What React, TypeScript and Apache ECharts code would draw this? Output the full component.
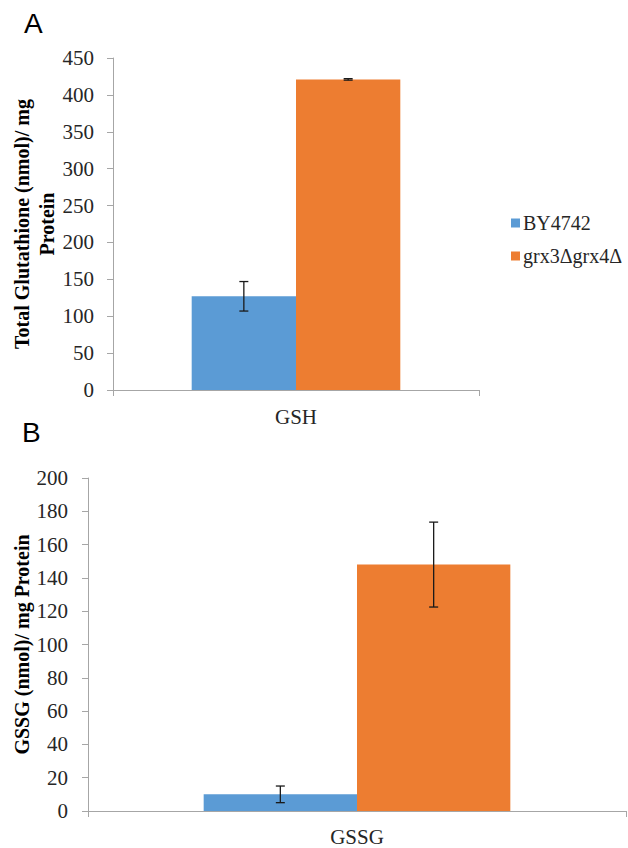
import React, { useEffect, useRef } from "react";
import * as echarts from "echarts";

const categoriesA = ["GSH"];
const categoriesB = ["GSSG"];
const seriesNames = ["BY4742", "grx3Δgrx4Δ"];
const valuesA_BY = [127];
const valuesA_GRX = [421];
const errA_BY = [20];
const errA_GRX = [1];
const valuesB_BY = [10];
const valuesB_GRX = [148];
const errB_BY = [5];
const errB_GRX = [25.5];
const ticksA = { min: 0, max: 450, interval: 50 };
const ticksB = { min: 0, max: 200, interval: 20 };

const BLUE = "#5B9BD5";
const ORANGE = "#ED7D31";
const AXIS = "#A6A6A6";
const SERIF = "'Liberation Serif', 'Times New Roman', serif";
const GAP = 0.43;

function errorItems(vals: number[], errs: number[], sign: number) {
  return vals.map((v, i) => [i, v - errs[i], v + errs[i], sign]);
}

const renderError = (params: any, api: any) => {
  const xi = api.value(0);
  const lo = api.coord([xi, api.value(1)]);
  const hi = api.coord([xi, api.value(2)]);
  const catW = api.size([1, 0])[0];
  const barW = (catW * (1 - GAP)) / 2;
  const cx = lo[0] + (api.value(3) * barW) / 2;
  const cap = 4.5;
  const style = { stroke: "#1a1a1a", lineWidth: 1.3 };
  return {
    type: "group",
    children: [
      { type: "line", shape: { x1: cx, y1: lo[1], x2: cx, y2: hi[1] }, style },
      { type: "line", shape: { x1: cx - cap, y1: lo[1], x2: cx + cap, y2: lo[1] }, style },
      { type: "line", shape: { x1: cx - cap, y1: hi[1], x2: cx + cap, y2: hi[1] }, style },
    ],
  };
};

export default function App() {
  const ref = useRef<HTMLDivElement>(null);
  useEffect(() => {
    document.body.style.margin = "0";
    const chart = echarts.init(ref.current!, null, { renderer: "svg" });
    const axisLabel = { fontFamily: SERIF, fontSize: 21, color: "#262626" };
    const nameStyle = { fontFamily: SERIF, fontSize: 20, fontWeight: "bold" as const, color: "#000", lineHeight: 25 };
    chart.setOption({
      animation: false,
      backgroundColor: "#fff",
      textStyle: { fontFamily: SERIF },
      legend: {
        data: seriesNames,
        orient: "vertical",
        left: 506,
        top: 208,
        itemWidth: 9,
        itemHeight: 9,
        itemGap: 13,
        icon: "rect",
        textStyle: { fontFamily: SERIF, fontSize: 20, color: "#262626", padding: [0, 0, 0, -2] },
      },
      graphic: [
        { type: "text", x: 24, y: 23, style: { text: "A", font: "28px 'Liberation Sans'", fill: "#000", textVerticalAlign: "middle" } },
        { type: "text", x: 22, y: 432, style: { text: "B", font: "28px 'Liberation Sans'", fill: "#000", textVerticalAlign: "middle" } },
      ],
      grid: [
        { left: 113, right: 149, top: 58, bottom: 458, containLabel: false, outerBoundsMode: "none" },
        { left: 88, right: 2, top: 478, bottom: 37, containLabel: false, outerBoundsMode: "none" },
      ],
      xAxis: [
        {
          type: "category", gridIndex: 0, data: categoriesA,
          axisLine: { lineStyle: { color: AXIS } },
          axisTick: { show: true, length: 6, lineStyle: { color: AXIS } },
          axisLabel: { ...axisLabel, margin: 16 },
        },
        {
          type: "category", gridIndex: 1, data: categoriesB,
          axisLine: { lineStyle: { color: AXIS } },
          axisTick: { show: true, length: 6, lineStyle: { color: AXIS } },
          axisLabel: { ...axisLabel, margin: 15 },
        },
      ],
      yAxis: [
        {
          type: "value", gridIndex: 0, ...ticksA,
          axisLine: { show: true, lineStyle: { color: AXIS } },
          axisTick: { show: true, length: 6, lineStyle: { color: AXIS } },
          splitLine: { show: false },
          axisLabel: { ...axisLabel, margin: 19 },
          name: "Total Glutathione (nmol)/ mg\nProtein",
          nameLocation: "middle", nameRotate: 90, nameGap: 54, nameMoveOverlap: false, nameTextStyle: nameStyle,
        },
        {
          type: "value", gridIndex: 1, ...ticksB,
          axisLine: { show: true, lineStyle: { color: AXIS } },
          axisTick: { show: true, length: 6, lineStyle: { color: AXIS } },
          splitLine: { show: false },
          axisLabel: { ...axisLabel, margin: 20 },
          name: "GSSG (nmol)/ mg Protein",
          nameLocation: "middle", nameRotate: 90, nameGap: 54, nameMoveOverlap: false, nameTextStyle: nameStyle,
        },
      ],
      series: [
        { name: seriesNames[0], type: "bar", xAxisIndex: 0, yAxisIndex: 0, data: valuesA_BY, itemStyle: { color: BLUE }, barGap: "0%", barCategoryGap: "43%" },
        { name: seriesNames[1], type: "bar", xAxisIndex: 0, yAxisIndex: 0, data: valuesA_GRX, itemStyle: { color: ORANGE }, barGap: "0%", barCategoryGap: "43%" },
        { name: seriesNames[0], type: "bar", xAxisIndex: 1, yAxisIndex: 1, data: valuesB_BY, itemStyle: { color: BLUE }, barGap: "0%", barCategoryGap: "43%" },
        { name: seriesNames[1], type: "bar", xAxisIndex: 1, yAxisIndex: 1, data: valuesB_GRX, itemStyle: { color: ORANGE }, barGap: "0%", barCategoryGap: "43%" },
        { type: "custom", xAxisIndex: 0, yAxisIndex: 0, data: errorItems(valuesA_BY, errA_BY, -1), renderItem: renderError, z: 10 },
        { type: "custom", xAxisIndex: 0, yAxisIndex: 0, data: errorItems(valuesA_GRX, errA_GRX, 1), renderItem: renderError, z: 10 },
        { type: "custom", xAxisIndex: 1, yAxisIndex: 1, data: errorItems(valuesB_BY, errB_BY, -1), renderItem: renderError, z: 10 },
        { type: "custom", xAxisIndex: 1, yAxisIndex: 1, data: errorItems(valuesB_GRX, errB_GRX, 1), renderItem: renderError, z: 10 },
      ],
    });
    return () => chart.dispose();
  }, []);
  return <div ref={ref} style={{ position: "fixed", left: 0, top: 0, width: 628, height: 848 }} />;
}
